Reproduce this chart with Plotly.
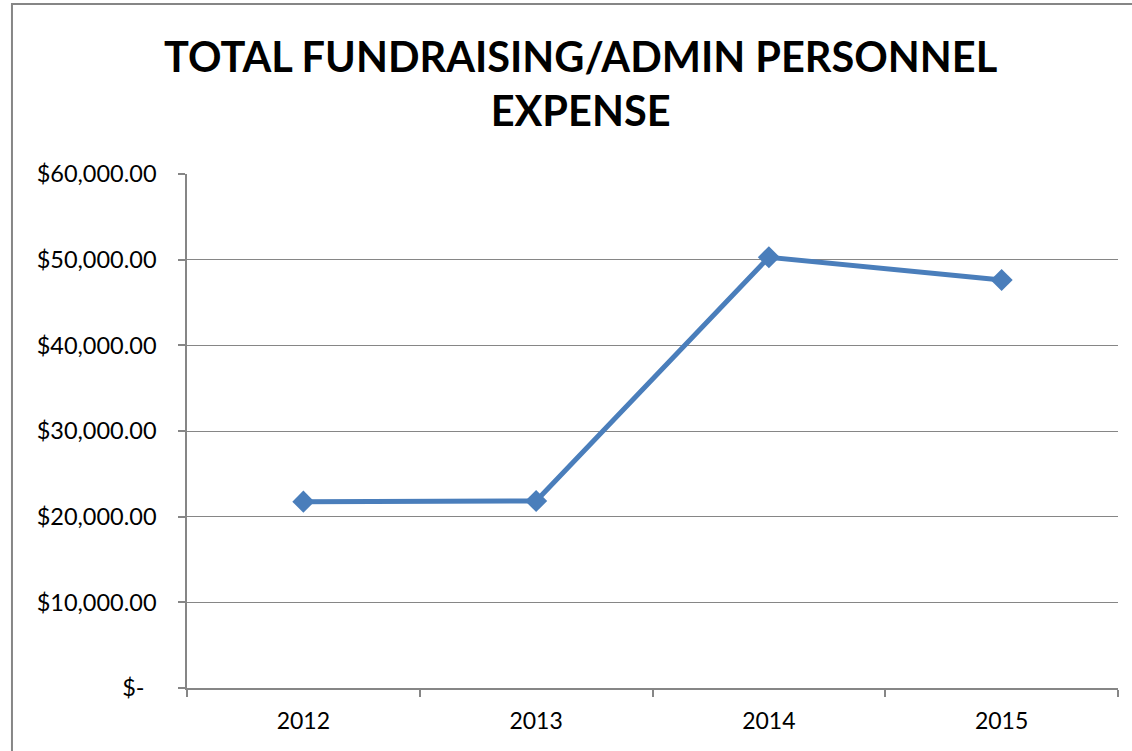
import plotly.graph_objects as go

# Fundraising/admin personnel expense by year
years = ["2012", "2013", "2014", "2015"]
expense = [21750, 21830, 50280, 47630]

y_ticks = [0, 10000, 20000, 30000, 40000, 50000, 60000]
y_labels = ["$-\u00a0\u00a0", "$10,000.00", "$20,000.00", "$30,000.00",
            "$40,000.00", "$50,000.00", "$60,000.00"]

grid = "#868686"
blue = "#4a7ebb"
font = "Lato"

fig = go.Figure()
fig.add_trace(go.Scatter(
    x=years, y=expense, mode="lines+markers",
    line=dict(color=blue, width=5),
    marker=dict(symbol="diamond", size=17, color=blue),
    showlegend=False,
))

fig.update_layout(
    width=1132, height=751,
    margin=dict(l=187, r=14, t=174, b=63),
    paper_bgcolor="white", plot_bgcolor="white",
    annotations=[dict(
        text="<b>TOTAL FUNDRAISING/ADMIN PERSONNEL</b><br><b>EXPENSE</b>",
        xref="paper", yref="paper", x=0.423, y=1.282,
        xanchor="center", yanchor="top", showarrow=False,
        align="center",
        font=dict(family=font, size=41.5, color="black"),
    )],
    xaxis=dict(
        type="category", range=[-0.5, 3.5],
        showline=True, linecolor=grid, linewidth=1.5,
        ticks="outside", tickson="boundaries", ticklen=7, tickcolor=grid,
        tickwidth=1.5, showgrid=False,
        tickfont=dict(family=font, size=23, color="black"),
        ticklabelstandoff=12,
    ),
    yaxis=dict(
        range=[0, 60000], tickvals=y_ticks, ticktext=y_labels,
        showline=True, linecolor=grid, linewidth=1.5,
        ticks="outside", ticklen=7, tickcolor=grid, tickwidth=1.5,
        showgrid=True, gridcolor=grid, gridwidth=1.3,
        zeroline=False,
        tickfont=dict(family=font, size=23.5, color="black"),
        ticklabelstandoff=17,
    ),
    shapes=[dict(
        type="rect", xref="paper", yref="paper",
        x0=-0.188, x1=1.2, y0=-0.3, y1=1.3307,
        line=dict(color=grid, width=2), layer="below",
    )],
)

fig.write_html("out.html")
